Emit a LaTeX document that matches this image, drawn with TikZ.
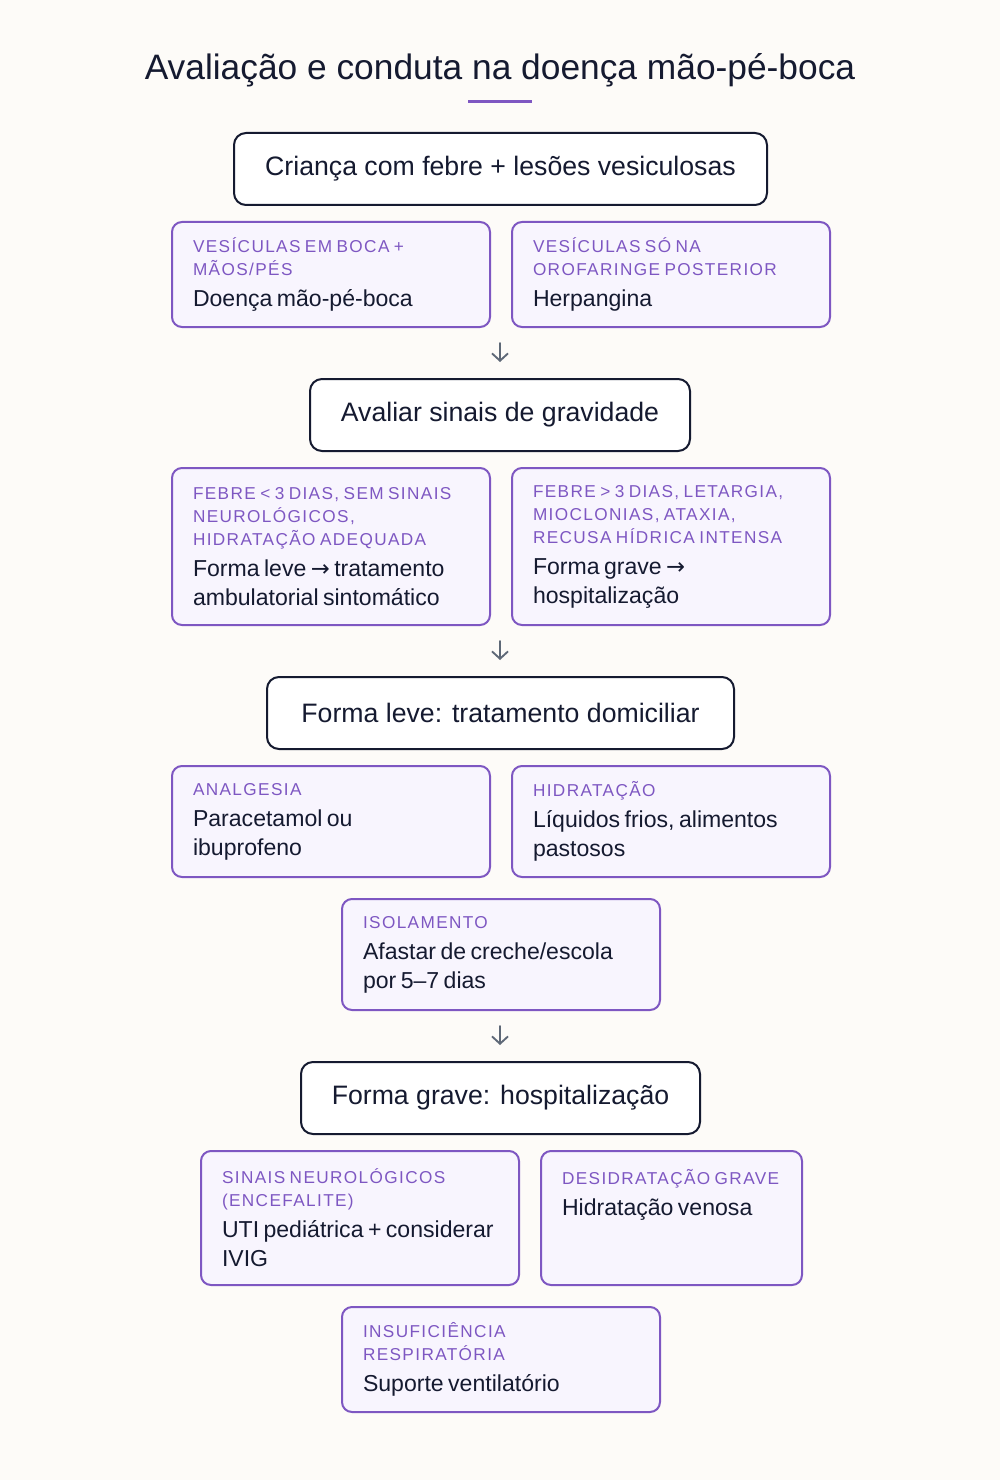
\documentclass[tikz,border=0pt]{standalone}
\usepackage{fontspec}
\setmainfont{Liberation Sans}
\newfontfamily\rotfam[LetterSpace=8,WordSpace=1.4]{Liberation Sans}
\newfontfamily\setafam{DejaVu Sans}
\usetikzlibrary{arrows.meta}
\definecolor{fundo}{HTML}{FDFBF8}
\definecolor{lilas}{HTML}{F8F5FE}
\definecolor{roxo}{HTML}{7E57C2}
\definecolor{tinta}{HTML}{151A30}
\definecolor{cinza}{HTML}{5E6877}
% fontes (1px = 0.75pt)
\newcommand\titulofont{\fontsize{26.5pt}{31pt}\selectfont}
\newcommand\caixafont{\fontsize{20pt}{24pt}\selectfont}
\newcommand\rotfont{\rotfam\fontsize{12.9pt}{17.25pt}\selectfont}
\newcommand\corpofont{\fontsize{17.3pt}{21.75pt}\selectfont}
\newcommand\seta{{\setafam\fontsize{17pt}{17pt}\selectfont →}}
% rótulo roxo + texto do cartão
\newcommand\cartao[2]{{\rotfont\color{roxo}#1\par}\vspace{1.5pt}{\corpofont #2\par}}
\tikzset{
  caixa/.style={draw=tinta, fill=white, line width=1.5pt, rounded corners=9pt,
    text=tinta, font=\caixafont, minimum height=54pt, inner sep=0pt},
  card/.style={draw=roxo, fill=lilas, line width=1.5pt, rounded corners=7.5pt,
    text=tinta, anchor=north west, align=left, inner xsep=15.75pt, inner ysep=0pt},
  fluxo/.style={draw=cinza, line width=1.4pt, -{Straight Barb[length=5.5pt,width=12pt]}}
}
\begin{document}
\begin{tikzpicture}[x=0.75pt, y=-0.75pt, line join=round, line cap=round]
% fundo e margens
\useasboundingbox[fill=fundo] (0,0) rectangle (1000,1480);
% título
\node[text=tinta, font=\titulofont] (titulo) at (500,70) {Avaliação e conduta na doença mão-pé-boca};
\coordinate (tra) at (468,101.5);
\coordinate (trb) at (532,101.5);
\draw[roxo, line width=2.25pt, line cap=butt] (tra) -- (trb);
% etapa 1
\node[caixa, minimum width=399.75pt] (inicio) at (500.5,169) {Criança com febre + lesões vesiculosas};
\node[card, minimum width=238.5pt, minimum height=78.75pt, text width=207pt] (mpb) at (171,221)
  {\cartao{VESÍCULAS EM BOCA +\\MÃOS/PÉS}{Doença mão-pé-boca}};
\node[card, minimum width=238.5pt, minimum height=78.75pt, text width=207pt] (herp) at (511,221)
  {\cartao{VESÍCULAS SÓ NA\\OROFARINGE POSTERIOR}{Herpangina}};
\coordinate (s1a) at (500,343);
\coordinate (s1b) at (500,362);
\draw[fluxo] (s1a) -- (s1b);
% etapa 2
\node[caixa, minimum width=285pt] (grav) at (500,415) {Avaliar sinais de gravidade};
\node[card, minimum width=238.5pt, minimum height=117.75pt, text width=207pt] (leve) at (171,467)
  {\cartao{FEBRE < 3 DIAS, SEM SINAIS\\NEUROLÓGICOS,\\HIDRATAÇÃO ADEQUADA}{Forma leve \seta{} tratamento\\ambulatorial sintomático}};
\node[card, minimum width=238.5pt, minimum height=117.75pt, text width=207pt] (grave) at (511,467)
  {\cartao{FEBRE > 3 DIAS, LETARGIA,\\MIOCLONIAS, ATAXIA,\\RECUSA HÍDRICA INTENSA}{Forma grave \seta\\hospitalização}};
\coordinate (s2a) at (500,641);
\coordinate (s2b) at (500,660);
\draw[fluxo] (s2a) -- (s2b);
% etapa 3
\node[caixa, minimum width=350.25pt] (domic) at (500.5,713) {Forma leve: tratamento domiciliar};
\node[card, minimum width=238.5pt, minimum height=83.25pt, text width=207pt] (analg) at (171,765)
  {\cartao{ANALGESIA}{Paracetamol ou\\ibuprofeno}};
\node[card, minimum width=238.5pt, minimum height=83.25pt, text width=207pt] (hidr) at (511,765)
  {\cartao{HIDRATAÇÃO}{Líquidos frios, alimentos\\pastosos}};
\node[card, minimum width=238.5pt, minimum height=83.25pt, text width=207pt] (isol) at (341,898)
  {\cartao{ISOLAMENTO}{Afastar de creche/escola\\por 5–7 dias}};
\coordinate (s3a) at (500,1026);
\coordinate (s3b) at (500,1045);
\draw[fluxo] (s3a) -- (s3b);
% etapa 4
\node[caixa, minimum width=299.25pt] (hosp) at (500.5,1098) {Forma grave: hospitalização};
\node[card, minimum width=238.5pt, minimum height=100.5pt, text width=207pt] (neuro) at (200,1150)
  {\cartao{SINAIS NEUROLÓGICOS\\(ENCEFALITE)}{UTI pediátrica + considerar\\IVIG}};
\node[card, minimum width=195.75pt, minimum height=100.5pt, text width=164.25pt] (desid) at (540,1150)
  {\cartao{DESIDRATAÇÃO GRAVE}{Hidratação venosa\\\mbox{}\\\mbox{}\par\vspace{-4.5pt}}};
\node[card, minimum width=238.5pt, minimum height=78.75pt, text width=207pt] (resp) at (341,1306)
  {\cartao{INSUFICIÊNCIA\\RESPIRATÓRIA}{Suporte ventilatório}};
\end{tikzpicture}
\end{document}
